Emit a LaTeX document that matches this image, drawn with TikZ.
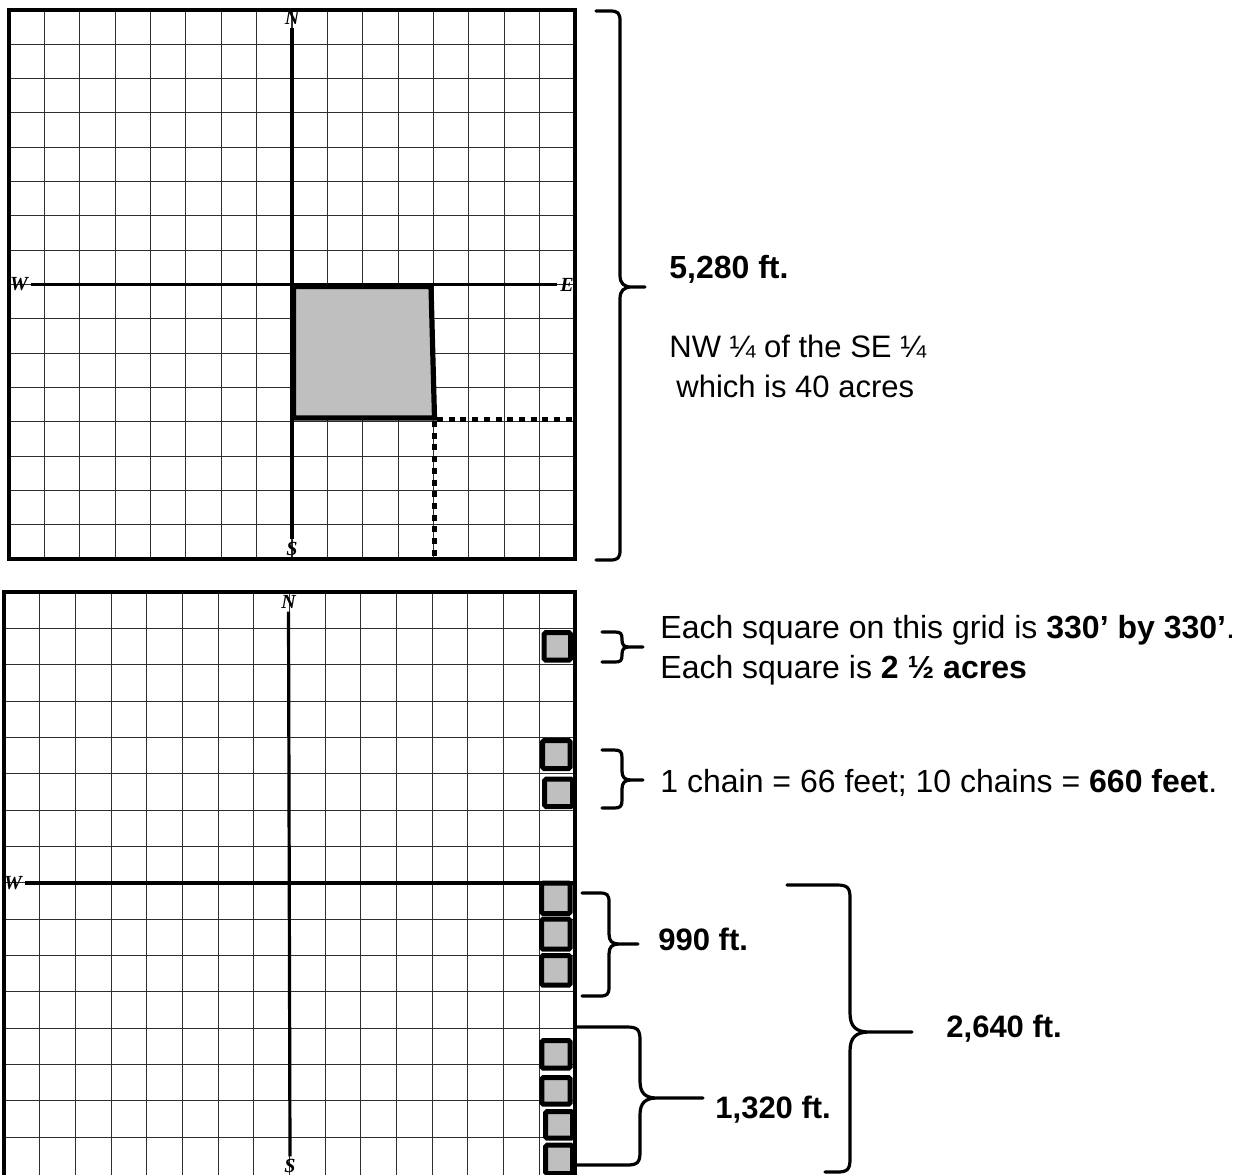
\documentclass[tikz,border=0pt]{standalone}
\usepackage{fontspec}
\setmainfont{Liberation Sans}
\newfontfamily\axfont{Liberation Serif}
\newcommand\mybrace[9]{% xl-top, xl-bottom, xv, xt, yt, ym, yb, r, tip r
  \draw[brace] (#1,#5) -- ({#3-#8},#5) .. controls ({#3-0.2*#8},#5) and (#3,{#5+0.2*#8}) .. (#3,{#5+#8})
    -- (#3,{#6-#9}) .. controls (#3,{#6-0.3*#9}) and ({#3+0.3*#9},#6) .. ({#3+#9},#6) -- (#4,#6)
    -- ({#3+#9},#6) .. controls ({#3+0.3*#9},#6) and (#3,{#6+0.3*#9}) .. (#3,{#6+#9})
    -- (#3,{#7-#8}) .. controls (#3,{#7-0.2*#8}) and ({#3-0.2*#8},#7) .. ({#3-#8},#7) -- (#2,#7);}
\newcommand\plotsq[4]{\draw[plotsq] ({#1+2.5},{#2+2.5}) rectangle ({#3-2.5},{#4-2.5});}
\begin{document}
\begin{tikzpicture}[x=0.5pt,y=-0.5pt,
  gridline/.style={line width=0.55pt,draw=black!82},
  frame/.style={line width=1.6pt},
  axis/.style={line width=1.6pt},
  axlabel/.style={inner sep=0pt,outer sep=1.5pt,font=\axfont\bfseries\itshape\fontsize{10}{10}\selectfont},
  brace/.style={line width=1.6pt,line join=round,line cap=round},
  plotsq/.style={line width=2.5pt,fill=black!25,rounded corners=0.8pt},
  dots/.style={line width=2.3pt,dash pattern=on 3pt off 2.85pt},
  lbl/.style={inner sep=0pt,anchor=base west},
  txt/.style={lbl,font=\fontsize{16}{19}\selectfont},
  bold/.style={lbl,font=\fontsize{15.5}{19}\selectfont\bfseries}]
\useasboundingbox[fill=white] (0,0) rectangle (1245,1174);

% ---------- top grid ----------
\foreach \i in {1,...,15}{
  \draw[gridline] ({9+\i*35.375},10) -- ({9+\i*35.375},559);
  \draw[gridline] (9,{10+\i*34.3125}) -- (575,{10+\i*34.3125});
}
\draw[frame] (9,10) rectangle (575,559);
\node[axlabel] (N1) at (292,18) {N};
\node[axlabel] (S1) at (292,549) {S};
\node[axlabel] (W1) at (19,284.5) {W};
\node[axlabel] (E1) at (567,284.5) {E};
\draw[axis] (N1.south) -- (S1.north);
\draw[axis] (W1.east) -- (E1.west);
\draw[line width=2.6pt,fill=black!25,line join=miter]
  (293.5,286.5) -- (431,286.5) -- (434.5,418) -- (293.5,418) -- cycle;
\draw[dots] (437,419.5) -- (577,419.5);
\draw[dots] (434.5,421) -- (434.5,560);

% ---------- bottom grid ----------
\foreach \i in {1,...,15}{
  \draw[gridline] ({4+\i*35.6875},592) -- ({4+\i*35.6875},1180);
  \draw[gridline] (4,{592+\i*36.35}) -- (575,{592+\i*36.35});
}
\draw[frame] (575,1180) -- (575,592) -- (4,592) -- (4,1180);
\node[axlabel] (N2) at (288.5,602) {N};
\node[axlabel] (S2) at (290,1166) {S};
\node[axlabel] (W2) at (13,883) {W};
\coordinate (E2) at (575,883);
\draw[axis] (N2.south) -- (S2.north);
\draw[axis] (W2.east) -- (E2);

% small squares
\plotsq{541.7}{630}{573}{662.7}
\plotsq{540}{738}{572.7}{771}
\plotsq{542}{776.7}{575}{809}
\plotsq{539}{880.7}{572.7}{916}
\plotsq{539}{916.7}{572.7}{951.7}
\plotsq{539}{953}{572.7}{987.7}
\plotsq{539.3}{1038}{572.7}{1070.7}
\plotsq{539.3}{1075}{572.7}{1106.7}
\plotsq{543}{1109}{575}{1140.7}
\plotsq{543}{1142.7}{575}{1176}

% ---------- braces ----------
\mybrace{596}{596}{620}{645}{11}{287}{560}{10}{12}
\mybrace{602}{602}{622}{643}{632}{647}{662}{7}{7}
\mybrace{602}{602}{622}{643}{750}{780}{808}{8}{9}
\mybrace{582}{582}{609}{638}{893}{944}{996}{9}{10}
\mybrace{576}{576}{640}{703}{1027}{1098}{1165}{13}{17}
\mybrace{787}{825}{850}{912}{885}{1032}{1172}{13}{19}

% ---------- texts ----------
\node[lbl,font=\fontsize{16}{20}\selectfont\bfseries] (t5280) at (669,278) {5,280 ft.};
\node[lbl,font=\fontsize{15.5}{20}\selectfont] (tnw) at (669,357) {NW ¼ of the SE ¼};
\node[lbl,font=\fontsize{15.5}{20}\selectfont] (t40) at (676,397) {which is 40 acres};
\node[txt] (tsq1) at (660,638) {Each square on this grid is \textbf{330’ by 330’}.};
\node[txt] (tsq2) at (660,678) {Each square is \textbf{2 ½ acres}};
\node[txt] (tch) at (660,792) {1 chain = 66 feet; 10 chains = \textbf{660 feet}.};
\node[bold] (t990) at (658,950) {990 ft.};
\node[bold] (t1320) at (715,1118) {1,320 ft.};
\node[bold] (t2640) at (946,1037) {2,640 ft.};
\end{tikzpicture}
\end{document}
